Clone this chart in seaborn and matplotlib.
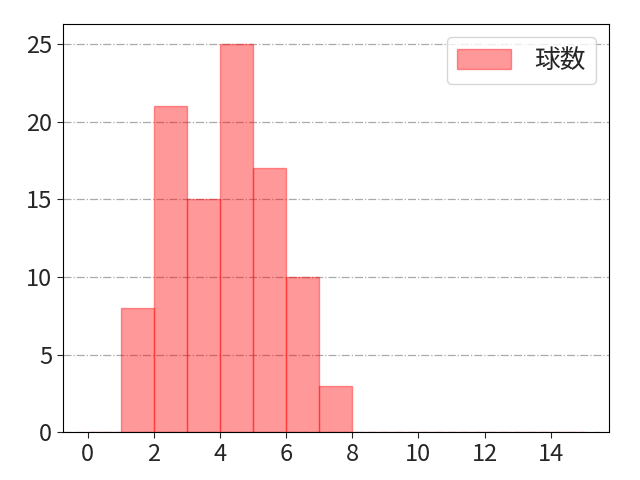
import numpy as np
import pandas as pd
import matplotlib
matplotlib.use('Agg')
import matplotlib.pyplot as plt
from matplotlib.ticker import MultipleLocator
import seaborn as sns

sns.set_style("white")
plt.rcParams['font.family'] = ['Noto Sans CJK JP', 'DejaVu Sans']
plt.rcParams['font.size'] = 17

# pitch-count bins (left edge) and frequencies
bin_left = [0, 1, 2, 3, 4, 5, 6, 7, 8, 9, 10, 11, 12, 13, 14]
counts = [0, 8, 21, 15, 25, 17, 10, 3, 0, 0, 0, 0, 0, 0, 0]
label = '球数'

df = pd.DataFrame({'x': bin_left, 'w': counts})

fig, ax = plt.subplots(figsize=(6.4, 4.8), dpi=100)
sns.histplot(data=df, x='x', weights='w', binwidth=1, binrange=(0, 15), ax=ax,
             color='#ff0000', alpha=0.4, edgecolor=(1, 0, 0, 0.4), linewidth=1,
             label=label)
ax.xaxis.set_major_locator(MultipleLocator(2))
ax.grid(axis='y', color='#aaaaaa', linestyle='-.', linewidth=0.9)
ax.set_axisbelow(True)
ax.set_xlabel('')
ax.set_ylabel('')
ax.tick_params(labelsize=17, length=4, direction='out', left=True, bottom=True)
for s in ax.spines.values():
    s.set_color('black')
ax.legend(fontsize=18.5, handlelength=2.1, handleheight=0.8, handletextpad=0.9,
          loc='upper right')
fig.subplots_adjust(left=0.098, right=0.951, top=0.949, bottom=0.099)
plt.savefig('out.png', dpi=100)
